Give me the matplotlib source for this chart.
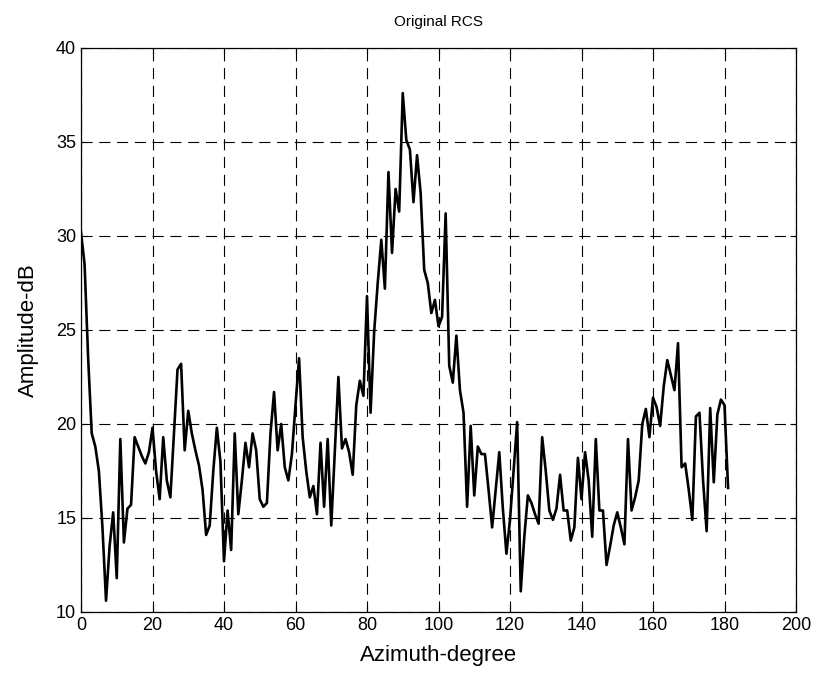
import matplotlib
matplotlib.use("Agg")
import matplotlib.pyplot as plt

plt.rcParams['font.family'] = ['Liberation Sans', 'DejaVu Sans']

azimuth = list(range(0, 182))
amplitude = [
    30.2, 28.5, 23.5, 19.5, 18.8, 17.5, 14.5, 10.6, 13.5, 15.3,
    11.8, 19.2, 13.7, 15.5, 15.7, 19.3, 18.8, 18.3, 17.9, 18.5,
    19.8, 17.5, 16.0, 19.3, 17.0, 16.1, 19.5, 22.9, 23.2, 18.6,
    20.7, 19.5, 18.6, 17.8, 16.5, 14.1, 14.6, 17.5, 19.8, 18.0,
    12.7, 15.4, 13.3, 19.5, 15.2, 17.0, 19.0, 17.7, 19.5, 18.6,
    16.0, 15.6, 15.8, 19.5, 21.7, 18.6, 20.0, 17.7, 17.0, 18.4,
    21.0, 23.5, 19.3, 17.5, 16.1, 16.7, 15.2, 19.0, 15.6, 19.2,
    14.6, 18.5, 22.5, 18.7, 19.2, 18.5, 17.3, 21.0, 22.3, 21.5,
    26.8, 20.6, 24.9, 27.5, 29.8, 27.2, 33.4, 29.1, 32.5, 31.3,
    37.6, 35.1, 34.6, 31.8, 34.3, 32.3, 28.2, 27.5, 25.9, 26.6,
    25.2, 25.7, 31.2, 23.1, 22.2, 24.7, 21.8, 20.6, 15.6, 19.9,
    16.2, 18.8, 18.4, 18.4, 16.5, 14.5, 16.5, 18.5, 15.5, 13.1,
    14.9, 17.5, 20.1, 11.1, 14.0, 16.2, 15.8, 15.2, 14.7, 19.3,
    17.5, 15.4, 14.9, 15.5, 17.3, 15.4, 15.4, 13.8, 14.5, 18.2,
    16.0, 18.5, 17.0, 14.0, 19.2, 15.4, 15.4, 12.5, 13.5, 14.6,
    15.3, 14.5, 13.6, 19.2, 15.4, 16.1, 17.0, 20.0, 20.8, 19.3,
    21.4, 20.9, 19.9, 22.0, 23.4, 22.6, 21.8, 24.3, 17.7, 17.9,
    16.5, 14.9, 20.4, 20.6, 17.0, 14.3, 20.85, 16.9, 20.5, 21.3,
    21.0, 16.6,
]
xticks = [0, 20, 40, 60, 80, 100, 120, 140, 160, 180, 200]
yticks = [10, 15, 20, 25, 30, 35, 40]

fig = plt.figure(figsize=(8.17, 6.77), dpi=100)
ax = fig.add_axes([81/817, 1-612/677, (796-81)/817, (612-48)/677])

ax.plot(azimuth, amplitude, color='black', linewidth=1.9)

ax.set_xlim(0, 200)
ax.set_ylim(10, 40)
ax.set_xticks(xticks)
ax.set_yticks(yticks)
ax.tick_params(direction='in', top=True, right=True, labelsize=13, length=4, width=0.8)
ax.grid(True, color='black', linestyle=(0, (10, 6)), linewidth=0.8)
for s in ax.spines.values():
    s.set_linewidth(0.9)

ax.set_title('Original RCS', fontsize=11, pad=16)
ax.set_xlabel('Azimuth-degree', fontsize=16, labelpad=8)
ax.set_ylabel('Amplitude-dB', fontsize=16, labelpad=12)

fig.savefig('out.png', dpi=100)
